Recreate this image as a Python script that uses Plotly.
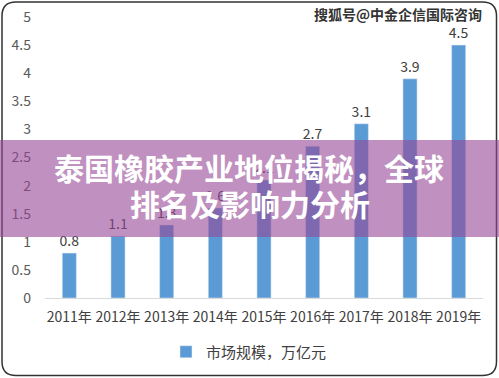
import plotly.graph_objects as go

years = ["2011年", "2012年", "2013年", "2014年", "2015年", "2016年", "2017年", "2018年", "2019年"]
market_size = [0.8, 1.1, 1.3, 1.6, 2.1, 2.7, 3.1, 3.9, 4.5]
series_name = "市场规模，万亿元"
y_ticks = [0, 0.5, 1, 1.5, 2, 2.5, 3, 3.5, 4, 4.5, 5]
y_tick_text = ["0", "0.5", "1", "1.5", "2", "2.5", "3", "3.5", "4", "4.5", "5"]
title_line1 = "泰国橡胶产业地位揭秘，全球"
title_line2 = "排名及影响力分析"
watermark = "搜狐号@中金企信国际咨询"

W, H = 499, 378
ML, MR, MT, MB = 45, 16, 17, 80
PW, PH = W - ML - MR, H - MT - MB


def px(x):
    return (x - ML) / PW


def py(y):
    return (H - MB - y) / PH


CJK = "Noto Sans CJK SC"

fig = go.Figure()
fig.add_trace(go.Bar(
    x=years, y=market_size, name=series_name,
    marker=dict(color="#5B9BD5"),
    text=[f"{v:.1f}" for v in market_size],
    textposition="outside", cliponaxis=False, constraintext="none",
    textfont=dict(family=CJK, size=14, color="#404040"),
    showlegend=True,
))

# rounded border
x0, x1, y0, y1, r = px(2), px(496.5), py(2), py(375.5), 14
rx, ry = r / PW, r / PH
path = (f"M {x0+rx},{y0} L {x1-rx},{y0} Q {x1},{y0} {x1},{y0-ry} "
        f"L {x1},{y1+ry} Q {x1},{y1} {x1-rx},{y1} "
        f"L {x0+rx},{y1} Q {x0},{y1} {x0},{y1+ry} "
        f"L {x0},{y0-ry} Q {x0},{y0} {x0+rx},{y0} Z")
shapes = [
    dict(type="path", xref="paper", yref="paper", path=path,
         line=dict(color="#333333", width=1.5), layer="above"),
    dict(type="rect", xref="paper", yref="paper",
         x0=px(0), x1=px(W), y0=py(140), y1=py(237),
         fillcolor="rgba(150,70,150,0.6)", line=dict(width=0), layer="above"),
]

annotations = [
    dict(xref="paper", yref="paper", x=px(249), y=py(167), text=f"<b>{title_line1}</b>",
         showarrow=False, font=dict(family=CJK, size=30, color="white"),
         xanchor="center", yanchor="middle"),
    dict(xref="paper", yref="paper", x=px(250), y=py(203), text=f"<b>{title_line2}</b>",
         showarrow=False, font=dict(family=CJK, size=30, color="white"),
         xanchor="center", yanchor="middle"),
    dict(xref="paper", yref="paper", x=px(484), y=py(14), text=f"<b>{watermark}</b>",
         showarrow=False, font=dict(family=CJK, size=14, color="#333333"),
         xanchor="right", yanchor="middle"),
]

fig.update_layout(
    width=W, height=H,
    margin=dict(l=ML, r=MR, t=MT, b=MB, autoexpand=False),
    paper_bgcolor="white", plot_bgcolor="white",
    bargap=0.71,
    shapes=shapes, annotations=annotations,
    legend=dict(orientation="h", x=px(249), y=py(352), xanchor="center", yanchor="middle",
                font=dict(family=CJK, size=15, color="#404040")),
    xaxis=dict(showline=True, linecolor="#D9D9D9", linewidth=1, ticks="",
               automargin=False,
               tickfont=dict(family=CJK, size=14, color="#404040"),
               ticklabelstandoff=6),
    yaxis=dict(range=[0, 5], tickvals=y_ticks, ticktext=y_tick_text, showgrid=False,
               zeroline=False, showline=False, automargin=False,
               tickfont=dict(family=CJK, size=14, color="#595959"),
               ticklabelstandoff=13),
)

fig.write_html("out.html", config={"displayModeBar": False},
               post_script="document.body.style.margin='0';document.body.style.overflow='hidden';")
